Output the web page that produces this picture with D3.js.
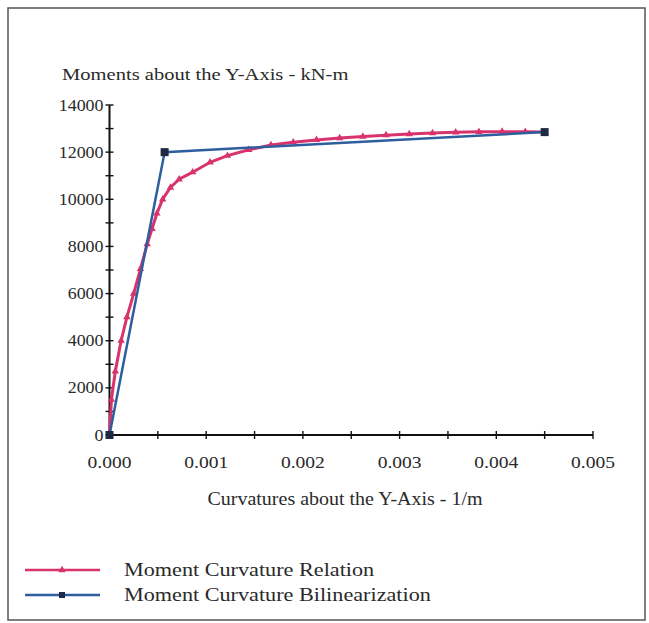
<!DOCTYPE html>
<html>
<head>
<meta charset="utf-8">
<script src="https://cdn.jsdelivr.net/npm/d3@7/dist/d3.min.js"></script>
<style>
  html, body { margin: 0; padding: 0; background: #fff; }
  svg { display: block; }
  text { font-family: "Liberation Serif", "Times New Roman", serif; fill: #2a2a2a; }
</style>
</head>
<body>
<svg id="chart" width="649" height="623"></svg>
<script>
// Moment–curvature relation (kN-m vs 1/m)
const relationCurvature = [0, 0.00002, 0.00006, 0.00012, 0.00018, 0.00025, 0.00032, 0.00039, 0.00044, 0.00049,
  0.00055, 0.00063, 0.00072, 0.00086, 0.00104, 0.00122, 0.00144, 0.00167, 0.0019, 0.00214,
  0.00238, 0.00262, 0.00286, 0.0031, 0.00334, 0.00358, 0.00382, 0.00406, 0.0043, 0.0045];
const relationMoment = [0, 1500, 2700, 4000, 5000, 6000, 7050, 8100, 8750, 9400,
  10000, 10500, 10850, 11150, 11570, 11850, 12100, 12300, 12420, 12520,
  12600, 12660, 12720, 12770, 12810, 12840, 12860, 12870, 12860, 12850];

// Bilinear idealisation
const bilinearCurvature = [0, 0.00057, 0.0045];
const bilinearMoment = [0, 12000, 12850];

const xTicks = [0, 0.001, 0.002, 0.003, 0.004, 0.005];
const xTickLabels = ["0.000", "0.001", "0.002", "0.003", "0.004", "0.005"];
const yTicks = [0, 2000, 4000, 6000, 8000, 10000, 12000, 14000];

const seriesNames = ["Moment Curvature Relation", "Moment Curvature Bilinearization"];
const yTitle = "Moments about the Y-Axis - kN-m";
const xTitle = "Curvatures about the Y-Axis - 1/m";

const redColor = "#d8336e";
const blueColor = "#2f5e9f";

const svg = d3.select("#chart");

// text helper: horizontally widened serif text
function label(parent, str, px, py, size, sx, anchor) {
  return parent.append("text")
    .attr("transform", `translate(${px},${py}) scale(${sx},1)`)
    .attr("text-anchor", anchor || "start")
    .attr("font-size", size)
    .text(str);
}

// outer frame
svg.append("rect")
  .attr("x", 8).attr("y", 8).attr("width", 637).attr("height", 612)
  .attr("fill", "none").attr("stroke", "#555").attr("stroke-width", 1.5);

const x = d3.scaleLinear().domain([0, 0.005]).range([109.5, 593]);
const y = d3.scaleLinear().domain([0, 14000]).range([435, 105]);

// y axis: line with crossing ticks every 1000, labels every 2000
const yAxis = svg.append("g");
yAxis.append("line")
  .attr("x1", x(0)).attr("x2", x(0)).attr("y1", y(0)).attr("y2", y(14000))
  .attr("stroke", "#111").attr("stroke-width", 2);
d3.range(0, 14001, 1000).forEach(v => {
  yAxis.append("line")
    .attr("x1", x(0) - 4).attr("x2", x(0) + 4).attr("y1", y(v)).attr("y2", y(v))
    .attr("stroke", "#111").attr("stroke-width", 1.4);
});
yTicks.forEach(v => label(yAxis, String(v), x(0) - 6, y(v) + 5.5, 16, 1.12, "end"));

// x axis: line with crossing ticks every 0.0005
const xAxis = svg.append("g");
xAxis.append("line")
  .attr("x1", x(0)).attr("x2", x(0.005)).attr("y1", y(0)).attr("y2", y(0))
  .attr("stroke", "#111").attr("stroke-width", 2);
d3.range(0, 11).forEach(i => {
  const v = i * 0.0005;
  xAxis.append("line")
    .attr("x1", x(v)).attr("x2", x(v)).attr("y1", y(0) - 4).attr("y2", y(0) + 4)
    .attr("stroke", "#111").attr("stroke-width", 1.4);
});
xTicks.forEach((v, i) => label(xAxis, xTickLabels[i], x(v), y(0) + 33, 17, 1.15, "middle"));

// titles
label(svg, yTitle, 62, 80, 17, 1.21, "start");
label(svg, xTitle, 345, 505, 18.5, 1.08, "middle");

const line = d3.line().x(d => x(d[0])).y(d => y(d[1]));

// relation curve
const relPts = relationCurvature.map((c, i) => [c, relationMoment[i]]);
svg.append("path").datum(relPts).attr("d", line)
  .attr("fill", "none").attr("stroke", redColor).attr("stroke-width", 3);
const tri = d3.symbol().type(d3.symbolTriangle).size(24);
svg.selectAll("path.relmark").data(relPts).join("path")
  .attr("class", "relmark")
  .attr("transform", d => `translate(${x(d[0])},${y(d[1])})`)
  .attr("d", tri).attr("fill", redColor);

// bilinear curve
const biPts = bilinearCurvature.map((c, i) => [c, bilinearMoment[i]]);
svg.append("path").datum(biPts).attr("d", line)
  .attr("fill", "none").attr("stroke", blueColor).attr("stroke-width", 2.5);
svg.selectAll("rect.bimark").data(biPts).join("rect")
  .attr("class", "bimark")
  .attr("x", d => x(d[0]) - 4).attr("y", d => y(d[1]) - 4)
  .attr("width", 8).attr("height", 8).attr("fill", "#1e2a44");

// legend
const legend = svg.append("g");
const legendRows = [
  { name: seriesNames[0], color: redColor, y: 570, mark: "tri" },
  { name: seriesNames[1], color: blueColor, y: 595, mark: "sq" }
];
legendRows.forEach(r => {
  legend.append("line").attr("x1", 25).attr("x2", 100).attr("y1", r.y).attr("y2", r.y)
    .attr("stroke", r.color).attr("stroke-width", 2.5);
  if (r.mark === "tri") {
    legend.append("path").attr("transform", `translate(62,${r.y})`).attr("d", tri).attr("fill", r.color);
  } else {
    legend.append("rect").attr("x", 59).attr("y", r.y - 3).attr("width", 6).attr("height", 6).attr("fill", "#1e2a44");
  }
  label(legend, r.name, 124, r.y + 6, 18.5, 1.2, "start");
});
</script>
</body>
</html>
